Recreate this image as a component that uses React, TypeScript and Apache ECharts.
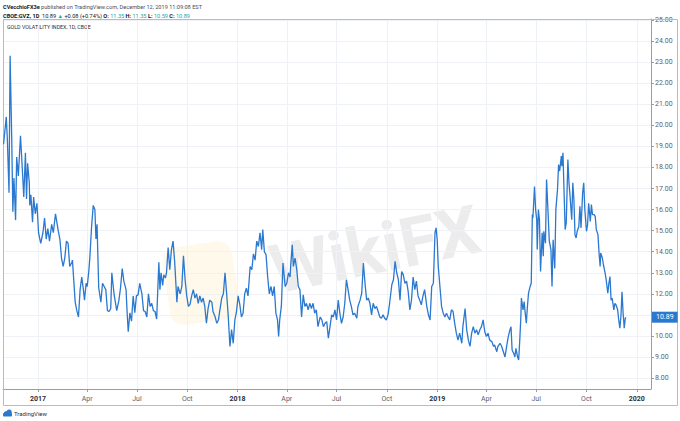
import React, { useEffect, useRef } from 'react';
import * as echarts from 'echarts';

// Day offsets from 2017-01-01 and GVZ close values
const BASE_DATE = '2017-01-01';
const dayOffsets = [
  -63, -58, -56, -53, -51, -48, -46, -44, -41, -39, -36, -32, -28, -26, -23, -21, -19, -16, -15, -13, -10, -8, -5, -2,
  1, 5, 9, 12, 15, 18, 21, 25, 28, 32, 37, 40, 43, 46, 49, 52, 55, 58, 62, 63, 68, 71, 74, 77, 80, 83, 85, 88, 90,
  93, 95, 98, 101, 104, 106, 108, 111, 115, 118, 121, 124, 127, 130, 133, 135, 139, 144, 148, 151, 154, 157, 161,
  163, 165, 168, 171, 174, 177, 180, 183, 186, 190, 193, 196, 199, 202, 205, 208, 211, 214, 217, 221, 223, 225,
  228, 230, 233, 235, 238,
  241, 244, 247, 250, 254, 256, 260, 263, 266, 269, 272, 275, 278, 281, 284, 287, 290, 293, 296, 299, 302, 305,
  308, 311, 314, 318, 320, 324, 327, 330, 333, 336, 339, 342, 345, 348, 351, 354, 357, 360, 363, 366, 369, 372,
  375, 378, 381, 384, 388, 391, 394, 397, 400, 403, 406, 409, 411, 414, 417, 420, 423, 426, 429, 432, 435, 438,
  440, 442, 445, 448, 452, 455, 458, 461, 462, 465, 467, 470, 473, 476, 479, 482, 485, 488, 491, 494, 497, 500,
  503, 506, 509, 512, 516, 519, 522, 525, 528, 531, 534, 537, 540,
  543, 546, 549, 552, 555, 558, 561, 564, 567, 570, 573, 576, 579, 583, 585, 589, 592, 595, 598, 601, 604, 607,
  610, 613, 616, 619, 622, 625, 628, 631, 634, 637, 640, 643, 647, 650, 653, 656, 659, 662, 665, 668, 671, 674,
  677, 680, 683, 686, 689, 692, 695, 698, 701, 704, 707, 711, 714, 717, 720, 723, 726, 728, 730, 732, 735, 738,
  741, 744, 747, 750, 753, 756, 759, 762, 765, 768, 771, 775, 777, 781, 784, 787, 790, 793, 796, 799, 802, 805,
  808, 811, 814, 817, 820, 823, 826, 830, 833, 835, 839, 841, 845, 848, 851,
  854, 857, 860, 863, 865, 867, 870, 872, 874, 877, 879, 881, 883, 884, 887, 889, 891, 893, 895, 897, 900, 902,
  904, 905, 908, 910, 912, 913, 915, 917, 919, 922, 924, 925, 928, 930, 933, 935, 938, 940, 942, 945, 947, 950,
  952, 954, 957, 958, 960, 961, 964, 966, 969, 971, 973, 976, 978, 980, 982, 984, 986, 989, 991, 993, 996, 998,
  1000, 1003, 1005, 1007, 1010, 1012, 1014, 1017, 1019, 1021, 1024, 1026, 1028, 1029, 1032, 1034, 1037, 1039,
  1042, 1044, 1046, 1048, 1050, 1053, 1055, 1057, 1060, 1062, 1064, 1066, 1068, 1070, 1071, 1072, 1074, 1075,
];
const gvzValues = [
  19.1, 20.4, 19.3, 16.8, 23.3, 19.3, 15.9, 17.5, 15.5, 18.5, 17.6, 19.5, 17.6, 16.6, 18.7, 16.5, 18.2, 17.3, 16.2, 16.7, 15.4, 16.6, 15.8, 16.3,
  14.9, 14.4, 14.9, 15.6, 14.6, 15.1, 14.5, 15.3, 14.9, 15.8, 15.0, 14.6, 13.7, 13.3, 13.7, 14.5, 14.4, 13.3, 13.5, 13.6, 11.6, 11.2, 10.9, 12.2, 12.8, 12.2, 11.7, 12.5, 12.35,
  13.1, 13.8, 15.2, 16.2, 16.0, 14.6, 15.3, 12.3, 11.6, 12.5, 12.35, 12.2, 11.2, 11.16, 11.3, 13.0, 12.0, 11.2, 11.7, 12.3, 13.2, 12.6, 12.2,
  11.1, 10.2, 11.1, 10.7, 11.9, 11.1, 11.9, 11.95, 12.5, 12.0, 11.2, 11.16, 10.9, 12.0, 11.4, 11.55, 11.2, 11.16, 10.8, 13.5, 12.2, 13.0,
  12.4, 12.9, 12.75, 13.0, 14.2,
  13.14, 14.1, 14.5, 13.5, 11.6, 12.35, 12.0, 12.35, 13.8, 12.67, 11.9, 11.4, 11.5, 11.9, 12.2, 11.8, 12.0, 11.55, 11.9, 11.6, 11.8, 11.4,
  10.6, 11.3, 11.7, 11.6, 11.16, 10.9, 10.6, 10.76, 11.3, 11.8, 12.0, 13.0, 12.0, 10.9, 9.5, 10.3, 9.65, 10.76, 11.16, 11.9, 11.5, 10.9,
  11.08, 12.0, 12.27, 11.9, 13.3, 13.14, 13.9, 13.6, 14.5, 14.25, 14.9, 14.1, 15.05, 14.0, 13.86, 12.8, 12.0, 12.35, 11.9, 12.35, 11.08, 10.76,
  9.97, 10.76, 11.4, 13.46, 12.35, 12.5, 13.0, 12.8, 13.3, 14.33, 13.3, 13.7, 13.2, 12.35, 12.2, 10.9, 11.95, 11.4, 11.55, 11.24, 11.55, 11.3,
  11.55, 11.08, 11.24, 10.44, 10.9, 10.76, 10.44, 10.6, 10.68, 9.89, 10.44, 11.0, 10.9,
  11.24, 10.76, 11.7, 11.08, 10.6, 10.9, 11.55, 12.67, 12.2, 11.7, 11.4, 11.0, 11.08, 10.84, 11.4, 11.7, 12.03, 13.46, 12.5, 11.7, 11.8, 11.55,
  11.0, 11.55, 11.3, 11.4, 11.16, 10.9, 10.84, 11.0, 10.84, 10.76, 11.0, 11.55, 12.43, 12.67, 13.54, 13.0, 12.67, 11.7, 13.06, 12.9, 12.5, 12.6,
  12.1, 11.24, 11.7, 12.8, 12.2, 12.6, 11.9, 11.7, 11.48, 11.9, 12.2, 11.4, 11.0, 10.76, 12.35, 12.5, 14.9, 15.13, 14.57, 13.3, 12.35, 11.4,
  11.08, 10.9, 11.08, 10.9, 10.76, 11.24, 11.16, 10.6, 10.13, 9.8, 10.13, 9.65, 10.44, 11.3, 10.29, 9.8, 9.5, 10.13, 10.44, 10.13, 10.29, 10.05,
  10.29, 10.44, 10.76, 10.2, 9.97, 10.13, 9.8, 9.73, 9.5, 9.57, 9.25, 9.5, 9.65, 9.5, 9.25,
  9.0, 9.5, 9.97, 10.29, 10.44, 9.33, 9.17, 9.0, 9.41, 9.0, 8.86, 9.8, 10.9, 11.8, 11.24, 11.63, 11.08, 10.6, 11.4, 12.03, 12.35, 12.5,
  15.76, 15.6, 17.1, 16.0, 15.52, 14.1, 16.0, 15.52, 13.06, 14.9, 13.78, 14.97, 14.4, 17.43, 15.7, 14.5, 14.1, 12.35, 14.57, 13.2, 16.0, 16.95,
  18.14, 17.83, 18.54, 18.06, 18.7, 17.75, 15.05, 15.37, 18.38, 17.27, 16.63, 15.52, 17.27, 16.48, 14.81, 14.65, 14.97, 15.2, 16.16, 15.13, 16.8, 17.27,
  16.0, 14.97, 15.29, 16.3, 15.44, 16.24, 15.76, 15.76, 15.68, 15.05, 14.81, 13.94, 13.3, 13.94, 13.7, 13.38, 13.0, 12.67,
  12.03, 12.5, 12.82, 11.7, 11.8, 11.24, 11.55, 11.48, 11.24, 10.76, 10.37, 10.92, 12.1, 11.08, 10.76, 10.37, 10.84, 10.89,
];
const xTickDates = [
  '2017-01-01', '2017-04-01', '2017-07-01', '2017-10-01',
  '2018-01-01', '2018-04-01', '2018-07-01', '2018-10-01',
  '2019-01-01', '2019-04-01', '2019-07-01', '2019-10-01', '2020-01-01',
];
const monthNames = ['Jan', 'Feb', 'Mar', 'Apr', 'May', 'Jun', 'Jul', 'Aug', 'Sep', 'Oct', 'Nov', 'Dec'];
const xRangeDays = [-64, 1121];
const yRange = [7.48, 25.05];
const lastValue = 10.89;

const FONT = 'Roboto';

export default function App() {
  const ref = useRef<HTMLDivElement>(null);
  useEffect(() => {
    document.body.style.margin = '0';
    const chart = echarts.init(ref.current!, null, { renderer: 'svg' });
    const DAY = 86400000;
    const base = Date.parse(BASE_DATE);
    const data = dayOffsets.map((d, i) => [base + d * DAY, gvzValues[i]]);
    const tickValues = xTickDates.map((s) => Date.parse(s));

    chart.setOption({
      animation: false,
      backgroundColor: '#ffffff',
      textStyle: { fontFamily: FONT },
      grid: { left: 3, right: 29, top: 19, bottom: 32, containLabel: false },
      xAxis: {
        type: 'value',
        min: base + xRangeDays[0] * DAY,
        max: base + xRangeDays[1] * DAY,
        axisLine: { show: true, lineStyle: { color: '#9a9ca3', width: 1 } },
        axisTick: { show: true, length: 3, customValues: tickValues, lineStyle: { color: '#9a9ca3' } },
        splitLine: { show: true, lineStyle: { color: '#eef1f5', width: 1 } },
        axisLabel: {
          customValues: tickValues,
          margin: 6,
          fontSize: 7,
          color: '#5d606b',
          fontFamily: FONT,
          formatter: (v: number) => {
            const d = new Date(v);
            const m = d.getUTCMonth();
            return m === 0 ? '{y|' + d.getUTCFullYear() + '}' : monthNames[m];
          },
          rich: { y: { fontWeight: 'bold', color: '#2a2e39', fontSize: 7, fontFamily: FONT } },
        },
      },
      yAxis: {
        type: 'value',
        position: 'right',
        min: yRange[0],
        max: yRange[1],
        splitNumber: 18,
        axisLine: { show: true, lineStyle: { color: '#9a9ca3', width: 1 } },
        axisTick: { show: true, length: 3, lineStyle: { color: '#9a9ca3' } },
        splitLine: { show: true, lineStyle: { color: '#eef1f5', width: 1 } },
        axisLabel: {
          margin: 4,
          fontSize: 7,
          color: '#5d606b',
          fontFamily: FONT,
          showMinLabel: false,
          formatter: (v: number) =>
            Math.abs(v - Math.round(v)) < 1e-6 && Math.abs(v - lastValue) > 0.5 ? v.toFixed(2) : '',
        },
      },
      series: [
        {
          type: 'line',
          data,
          showSymbol: false,
          symbol: 'none',
          z: 3,
          lineStyle: { color: '#2a78d0', width: 1.3 },
          markLine: {
            silent: true,
            symbol: 'none',
            data: [{ yAxis: lastValue }],
            lineStyle: { color: 'rgba(0,0,0,0)', width: 0, type: 'solid' },
            label: {
              show: true,
              position: 'end',
              distance: 1,
              formatter: lastValue.toFixed(2),
              backgroundColor: '#2a78d0',
              color: '#ffffff',
              opacity: 1,
              fontSize: 7,
              fontFamily: FONT,
              padding: [2, 4, 2, 4],
            },
          },
        },
      ],
      graphic: [
        {
          type: 'rect',
          z: 0,
          x: 201,
          y: 283,
          rotation: 0.15,
          shape: { x: -35, y: -39, width: 70, height: 78, r: 14 },
          style: { fill: 'rgba(250, 226, 160, 0.22)' },
          silent: true,
        },
        {
          type: 'text',
          z: 0,
          x: 375,
          y: 250,
          rotation: 0.2,
          silent: true,
          style: {
            text: 'WikiFX',
            fontSize: 68,
            fontWeight: 'bold',
            fontFamily: FONT,
            fill: 'rgba(170, 170, 170, 0.22)',
            align: 'center',
            verticalAlign: 'middle',
          },
        },
        {
          type: 'rect',
          z: 1,
          silent: true,
          shape: { x: 3.5, y: 19.5, width: 674, height: 386 },
          style: { fill: 'none', stroke: '#b8bbc2', lineWidth: 1 },
        },
        {
          type: 'text',
          x: 3,
          y: 7,
          silent: true,
          style: {
            text: '{b|CVecchioFX3e} published on TradingView.com, December 12, 2019 11:09:08 EST',
            fontSize: 5.6,
            fontFamily: FONT,
            fill: '#4a4e59',
            verticalAlign: 'middle',
            rich: { b: { fontWeight: 'bold', fill: '#131722', fontSize: 5.6, fontFamily: FONT } },
          },
        },
        {
          type: 'text',
          x: 3,
          y: 16,
          silent: true,
          style: {
            text:
              '{b|CBOE:GVZ, 1D}  10.89 {g|▲} +0.08 (+0.74%) {b|O:} {g|11.35} {b|H:} {g|11.35} {b|L:} {g|10.59} {b|C:} {g|10.89}',
            fontSize: 5.6,
            fontFamily: FONT,
            fill: '#131722',
            verticalAlign: 'middle',
            rich: {
              b: { fontWeight: 'bold', fill: '#131722', fontSize: 5.6, fontFamily: FONT },
              g: { fill: '#26a69a', fontSize: 5.6, fontFamily: FONT },
            },
          },
        },
        {
          type: 'text',
          x: 7,
          y: 27,
          silent: true,
          style: {
            text: 'GOLD VOLATILITY INDEX, 1D, CBOE',
            fontSize: 5.3,
            fontFamily: FONT,
            fill: '#2a2e39',
            verticalAlign: 'middle',
          },
        },
        {
          type: 'group',
          silent: true,
          children: [
            { type: 'rect', shape: { x: 3, y: 413, width: 9, height: 3.5, r: 1 }, style: { fill: '#2a78d0' } },
            { type: 'circle', shape: { cx: 6, cy: 413.5, r: 2.2 }, style: { fill: '#2a78d0' } },
            { type: 'circle', shape: { cx: 9, cy: 412.3, r: 2.8 }, style: { fill: '#2a78d0' } },
          ],
        },
        {
          type: 'text',
          x: 14,
          y: 413.5,
          silent: true,
          style: {
            text: 'TradingView',
            fontSize: 6,
            fontFamily: FONT,
            fill: '#2a2e39',
            verticalAlign: 'middle',
          },
        },
      ],
    });
    return () => chart.dispose();
  }, []);
  return <div ref={ref} style={{ width: 680, height: 421 }} />;
}
